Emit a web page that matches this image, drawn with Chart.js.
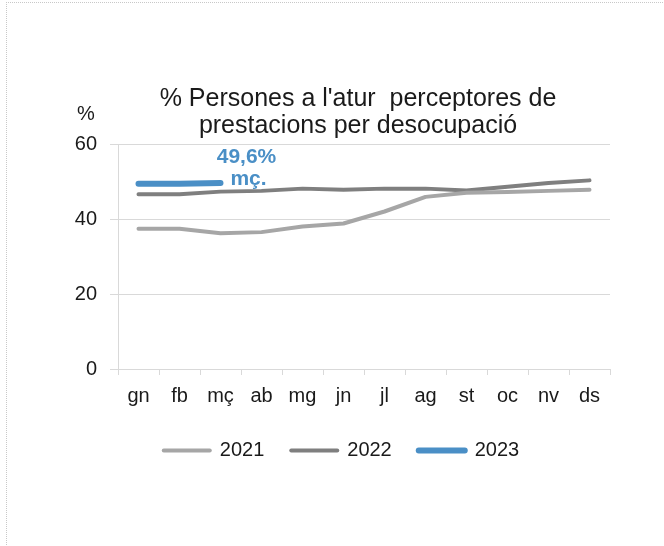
<!DOCTYPE html>
<html>
<head>
<meta charset="utf-8">
<script src="https://cdn.jsdelivr.net/npm/chart.js@4/dist/chart.umd.min.js"></script>
<style>
  html, body { margin: 0; padding: 0; background: #ffffff; overflow: hidden; }
  #frame { position: absolute; left: 6px; top: 2px; width: 700px; height: 600px;
           border-left: 1px dotted #c8c8c8; border-top: 1px dotted #c8c8c8; }
  #c { position: absolute; left: 0; top: 0; }
</style>
</head>
<body>
<div id="frame"></div>
<canvas id="c" width="664" height="546"></canvas>
<script>
const months = ['gn','fb','mç','ab','mg','jn','jl','ag','st','oc','nv','ds'];
const years = ['2021','2022','2023'];
const v2021 = [37.4, 37.4, 36.2, 36.5, 38.0, 38.8, 42.0, 45.9, 47.0, 47.2, 47.5, 47.8];
const v2022 = [46.6, 46.6, 47.3, 47.5, 48.1, 47.8, 48.1, 48.1, 47.6, 48.6, 49.6, 50.3];
const v2023 = [49.4, 49.4, 49.6];
const yTicks = [0, 20, 40, 60];
const titleLines = ["% Persones a l'atur  perceptores de", "prestacions per desocupació"];
const yUnit = '%';
const noteLines = ['49,6%', 'mç.'];
const noteIndex = 2;

const FONT = "'Liberation Sans', Arial, sans-serif";

const textPlugin = {
  id: 'texts',
  afterDraw(chart) {
    const ctx = chart.ctx;
    ctx.save();
    ctx.fillStyle = '#1a1a1a';
    ctx.font = '25px ' + FONT;
    ctx.textAlign = 'center';
    ctx.textBaseline = 'alphabetic';
    ctx.fillText(titleLines[0], 358, 106);
    ctx.fillText(titleLines[1], 358, 133);
    ctx.font = '20px ' + FONT;
    ctx.fillText(yUnit, 86, 120);
    const xs = chart.scales.x, ys = chart.scales.y;
    const px = xs.getPixelForValue(noteIndex);
    const py = ys.getPixelForValue(v2023[noteIndex]);
    ctx.fillStyle = '#4a8fc6';
    ctx.font = 'bold 21px ' + FONT;
    ctx.fillText(noteLines[0], px + 26, py - 20);
    ctx.fillText(noteLines[1], px + 28, py + 1.5);
    ctx.restore();
  }
};

new Chart(document.getElementById('c'), {
  type: 'line',
  data: {
    labels: months,
    datasets: [
      { label: years[0], data: v2021, borderColor: '#a6a6a6', backgroundColor: '#a6a6a6',
        borderWidth: 4, pointRadius: 0, borderCapStyle: 'round', borderJoinStyle: 'round', tension: 0 },
      { label: years[1], data: v2022, borderColor: '#7f7f7f', backgroundColor: '#7f7f7f',
        borderWidth: 4, pointRadius: 0, borderCapStyle: 'round', borderJoinStyle: 'round', tension: 0 },
      { label: years[2], data: v2023, borderColor: '#4a8fc6', backgroundColor: '#4a8fc6',
        borderWidth: 6, pointRadius: 0, borderCapStyle: 'round', borderJoinStyle: 'round', tension: 0 }
    ]
  },
  options: {
    responsive: false,
    animation: false,
    devicePixelRatio: 1,
    layout: { padding: { left: 73, right: 54, top: 144, bottom: 75.5 } },
    plugins: {
      title: { display: false },
      tooltip: { enabled: false },
      legend: {
        display: true,
        position: 'bottom',
        align: 'center',
        labels: {
          usePointStyle: true,
          pointStyle: 'line',
          pointStyleWidth: 46,
          padding: 27,
          color: '#1a1a1a',
          font: { family: FONT, size: 20 },
          generateLabels(chart) {
            const items = Chart.defaults.plugins.legend.labels.generateLabels(chart);
            items.forEach(it => {
              const ds = chart.data.datasets[it.datasetIndex];
              it.lineCap = 'round';
              it.lineWidth = ds.borderWidth;
              it.strokeStyle = ds.borderColor;
              it.fillStyle = ds.borderColor;
            });
            return items;
          }
        }
      }
    },
    scales: {
      x: {
        type: 'category',
        offset: true,
        afterFit(s) { s.height = 44.5; },
        grid: { display: true, offset: true, drawOnChartArea: false, drawTicks: true,
                tickLength: 6, color: '#d9d9d9', lineWidth: 1 },
        border: { display: true, color: '#d9d9d9', width: 1 },
        ticks: { color: '#1a1a1a', font: { family: FONT, size: 20 }, padding: 9,
                 maxRotation: 0, autoSkip: false }
      },
      y: {
        min: 0, max: 60,
        afterFit(s) { s.width = 45; },
        afterBuildTicks(s) { s.ticks = yTicks.map(v => ({ value: v })); },
        grid: { color: '#d9d9d9', lineWidth: 1, drawTicks: true, tickLength: 8 },
        border: { display: true, color: '#d9d9d9', width: 1 },
        ticks: { color: '#1a1a1a', font: { family: FONT, size: 20 }, padding: 13 }
      }
    }
  },
  plugins: [textPlugin]
});
</script>
</body>
</html>
